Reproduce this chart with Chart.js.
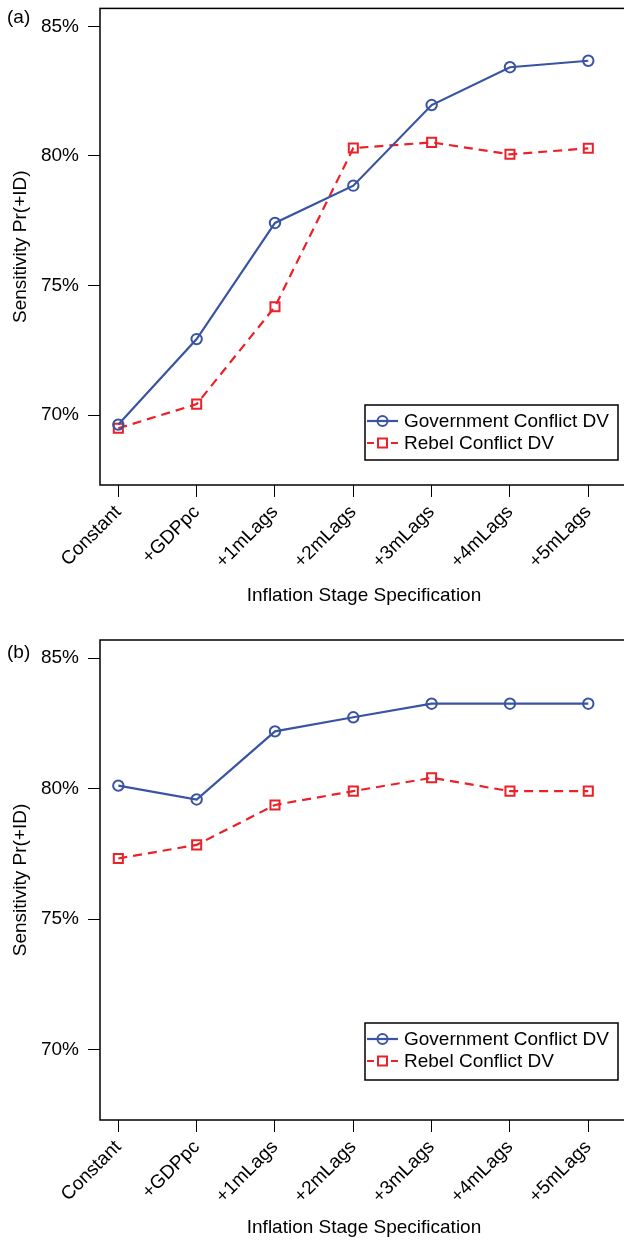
<!DOCTYPE html>
<html>
<head>
<meta charset="utf-8">
<script src="https://cdn.jsdelivr.net/npm/chart.js@4"></script>
<style>
    html, body { margin: 0; padding: 0; background: #fff; overflow: hidden; width: 624px; height: 1245px; }
    .panel { position: absolute; left: 0; width: 640px; }
    #wrapA { top: 0; height: 620px; }
    #wrapB { top: 620px; height: 625px; }
</style>
</head>
<body>
<div class="panel" id="wrapA"><canvas id="chartA"></canvas></div>
<div class="panel" id="wrapB"><canvas id="chartB"></canvas></div>
<script>
// Données
const categories = ['Constant', '+GDPpc', '+1mLags', '+2mLags', '+3mLags', '+4mLags', '+5mLags'];
const yTicks = [70, 75, 80, 85];
const seriesLabels = ['Government Conflict DV', 'Rebel Conflict DV'];

// Panneau (a)
const govA = [69.63, 72.93, 77.41, 78.85, 81.96, 83.42, 83.67];
const rebA = [69.49, 70.42, 74.18, 80.30, 80.52, 80.06, 80.29];

// Panneau (b)
const govB = [80.11, 79.58, 82.19, 82.73, 83.25, 83.25, 83.25];
const rebB = [77.32, 77.84, 79.37, 79.90, 80.41, 79.90, 79.90];

const BLUE = '#3A54A4';
const RED = '#EC2027';
const FONT = '"Liberation Sans", Arial, Helvetica, sans-serif';

Chart.defaults.font.family = FONT;
Chart.defaults.color = '#000';

// Cadre, étiquette du panneau et légende façon R
const framePlugin = {
    id: 'frame',
    afterDraw(chart, args, opts) {
        const ctx = chart.ctx;
        const a = chart.chartArea;
        ctx.save();
        ctx.strokeStyle = '#000';
        ctx.lineWidth = 1.5;
        ctx.setLineDash([]);
        ctx.strokeRect(a.left, a.top, a.right - a.left, a.bottom - a.top);

        ctx.fillStyle = '#000';
        ctx.font = '19px ' + FONT;
        ctx.textBaseline = 'middle';
        ctx.textAlign = 'left';
        ctx.fillText(opts.label, 7, opts.labelY);

        // légende
        const b = opts.box;
        ctx.fillStyle = '#fff';
        ctx.fillRect(b.x, b.y, b.w, b.h);
        ctx.strokeStyle = '#000';
        ctx.lineWidth = 1.5;
        ctx.strokeRect(b.x, b.y, b.w, b.h);

        chart.data.datasets.forEach((ds, i) => {
            const y = b.y + 16 + i * 22;
            const x0 = b.x + 2, x1 = b.x + 33, xm = (x0 + x1) / 2;
            ctx.strokeStyle = ds.borderColor;
            ctx.lineWidth = 2.2;
            if (ds.borderDash) {
                ctx.beginPath();
                ctx.moveTo(x0, y); ctx.lineTo(x0 + 7, y);
                ctx.moveTo(x1 - 7, y); ctx.lineTo(x1, y);
                ctx.stroke();
                ctx.lineWidth = 2;
                ctx.strokeRect(xm - 4.5, y - 4.5, 9, 9);
            } else {
                ctx.beginPath();
                ctx.moveTo(x0, y); ctx.lineTo(x1, y);
                ctx.stroke();
                ctx.lineWidth = 2;
                ctx.beginPath();
                ctx.arc(xm, y, 5, 0, Math.PI * 2);
                ctx.stroke();
            }
            ctx.fillStyle = '#000';
            ctx.font = '19px ' + FONT;
            ctx.textAlign = 'left';
            ctx.textBaseline = 'middle';
            ctx.fillText(ds.label, b.x + 39, y + 1);
        });
        ctx.restore();
    }
};

function makeDatasets(gov, reb) {
    return [
        {
            label: seriesLabels[0],
            data: gov.map((v, i) => ({ x: i, y: v })),
            borderColor: BLUE,
            borderWidth: 2.2,
            pointStyle: 'circle',
            pointRadius: 5.2,
            pointBorderWidth: 2,
            pointBorderColor: BLUE,
            pointBackgroundColor: 'rgba(0,0,0,0)',
            tension: 0
        },
        {
            label: seriesLabels[1],
            data: reb.map((v, i) => ({ x: i, y: v })),
            borderColor: RED,
            borderWidth: 2.2,
            borderDash: [9, 6],
            pointStyle: 'rect',
            pointRadius: 6.4,
            pointBorderWidth: 2,
            pointBorderColor: RED,
            pointBackgroundColor: 'rgba(0,0,0,0)',
            tension: 0
        }
    ];
}

function makeChart(id, gov, reb, cfg) {
    const canvas = document.getElementById(id);
    const ctx = canvas.getContext('2d');
    return new Chart(ctx, {
        type: 'line',
        data: { datasets: makeDatasets(gov, reb) },
        options: {
            responsive: true,
            maintainAspectRatio: false,
            animation: false,
            layout: { padding: { top: cfg.padTop, right: 12, bottom: 0, left: 0 } },
            plugins: {
                legend: { display: false },
                tooltip: { enabled: false },
                frame: { label: cfg.label, labelY: cfg.labelY, box: cfg.box }
            },
            scales: {
                x: {
                    type: 'linear',
                    min: -0.234,
                    max: 6.507,
                    afterBuildTicks: s => { s.ticks = categories.map((c, i) => ({ value: i })); },
                    afterFit: s => {
                        s.height = cfg.xHeight;
                        s.paddingLeft = 0;
                        s.paddingRight = 0;
                    },
                    border: { display: false },
                    grid: { drawOnChartArea: false, drawTicks: true, tickLength: 12, color: '#000', lineWidth: 1 },
                    ticks: {
                        autoSkip: false,
                        minRotation: 45,
                        maxRotation: 45,
                        padding: 4,
                        color: '#000',
                        font: { size: 19 },
                        callback: v => categories[v]
                    },
                    title: {
                        display: true,
                        text: 'Inflation Stage Specification',
                        color: '#000',
                        font: { size: 19 },
                        padding: { top: 0, bottom: cfg.titlePad }
                    }
                },
                y: {
                    type: 'linear',
                    min: 67.3,
                    max: 85.69,
                    afterBuildTicks: s => { s.ticks = yTicks.map(v => ({ value: v })); },
                    afterFit: s => {
                        s.width = 100;
                        s.paddingTop = 0;
                        s.paddingBottom = 0;
                    },
                    border: { display: false },
                    grid: { drawOnChartArea: false, drawTicks: true, tickLength: 12, color: '#000', lineWidth: 1 },
                    ticks: {
                        padding: 9,
                        color: '#000',
                        font: { size: 19 },
                        callback: v => v + '%'
                    },
                    title: {
                        display: true,
                        text: 'Sensitivity Pr(+ID)',
                        color: '#000',
                        font: { size: 19 },
                        padding: { top: 9, bottom: 0 }
                    }
                }
            }
        },
        plugins: [framePlugin]
    });
}

makeChart('chartA', govA, rebA, {
    label: '(a)', labelY: 18, padTop: 6, xHeight: 135, titlePad: 13,
    box: { x: 365, y: 405, w: 253, h: 55 }
});
makeChart('chartB', govB, rebB, {
    label: '(b)', labelY: 33, padTop: 20, xHeight: 125, titlePad: 6,
    box: { x: 365, y: 403, w: 253, h: 57 }
});
</script>
</body>
</html>
